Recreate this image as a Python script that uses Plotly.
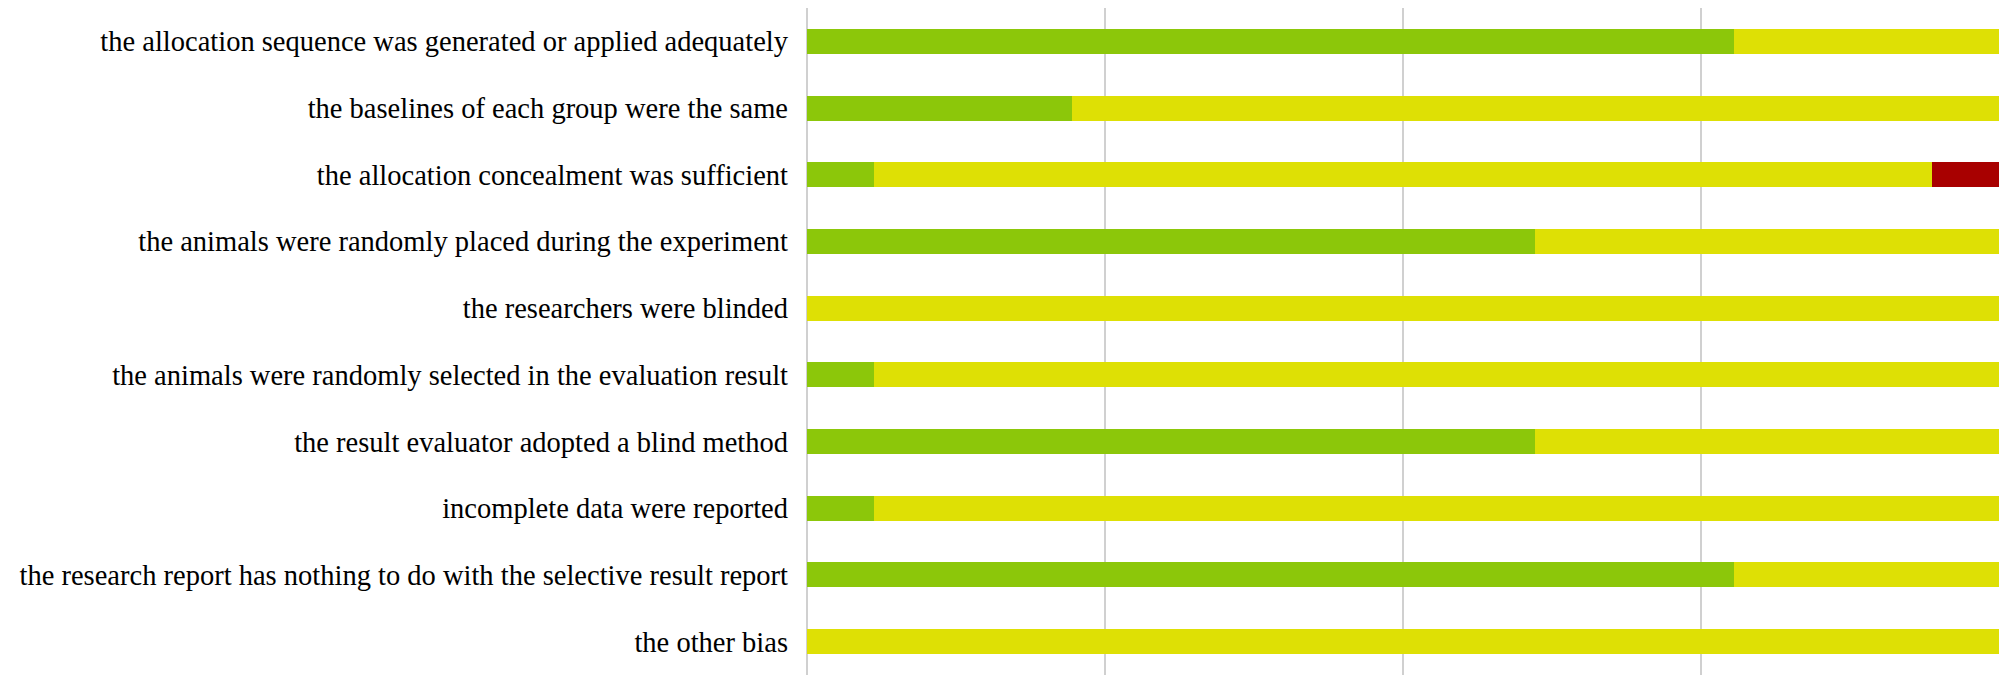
import plotly.graph_objects as go

# risk-of-bias items, top to bottom
items = [
    "the allocation sequence was generated or applied adequately",
    "the baselines of each group were the same",
    "the allocation concealment was sufficient",
    "the animals were randomly placed during the experiment",
    "the researchers were blinded",
    "the animals were randomly selected in the evaluation result",
    "the result evaluator adopted a blind method",
    "incomplete data were reported",
    "the research report has nothing to do with the selective result report",
    "the other bias",
]

# percentage of studies per judgement
low_risk = [77.8, 22.2, 5.6, 61.1, 0, 5.6, 61.1, 5.6, 77.8, 0]
unclear_risk = [22.2, 77.8, 88.8, 38.9, 100, 94.4, 38.9, 94.4, 22.2, 100]
high_risk = [0, 0, 5.6, 0, 0, 0, 0, 0, 0, 0]

fig = go.Figure()

for name, vals, color in [
    ("Low risk of bias", low_risk, "#8CC70A"),
    ("Unclear risk of bias", unclear_risk, "#DEE005"),
    ("High risk of bias", high_risk, "#A80000"),
]:
    fig.add_trace(go.Bar(
        y=items,
        x=vals,
        name=name,
        orientation="h",
        marker=dict(color=color, line=dict(width=0)),
        hoverinfo="x+name",
    ))

# page body adds an 8px offset, so the figure is sized to fit the window
fig.update_layout(
    barmode="stack",
    bargap=0.625,
    width=2000,
    height=677,
    plot_bgcolor="white",
    paper_bgcolor="white",
    showlegend=False,
    font=dict(family="Liberation Serif", size=28.5, color="black"),
    margin=dict(l=799, r=9, t=0, b=10),
)

fig.update_xaxes(
    range=[0, 100],
    dtick=25,
    showgrid=True,
    gridcolor="#D0D0D0",
    gridwidth=2,
    zeroline=True,
    zerolinecolor="#D0D0D0",
    zerolinewidth=2,
    showticklabels=False,
    fixedrange=True,
)

fig.update_yaxes(
    autorange="reversed",
    ticks="",
    ticklabelstandoff=18,
    automargin=False,
    showgrid=False,
    fixedrange=True,
)

fig.write_html("out.html")
